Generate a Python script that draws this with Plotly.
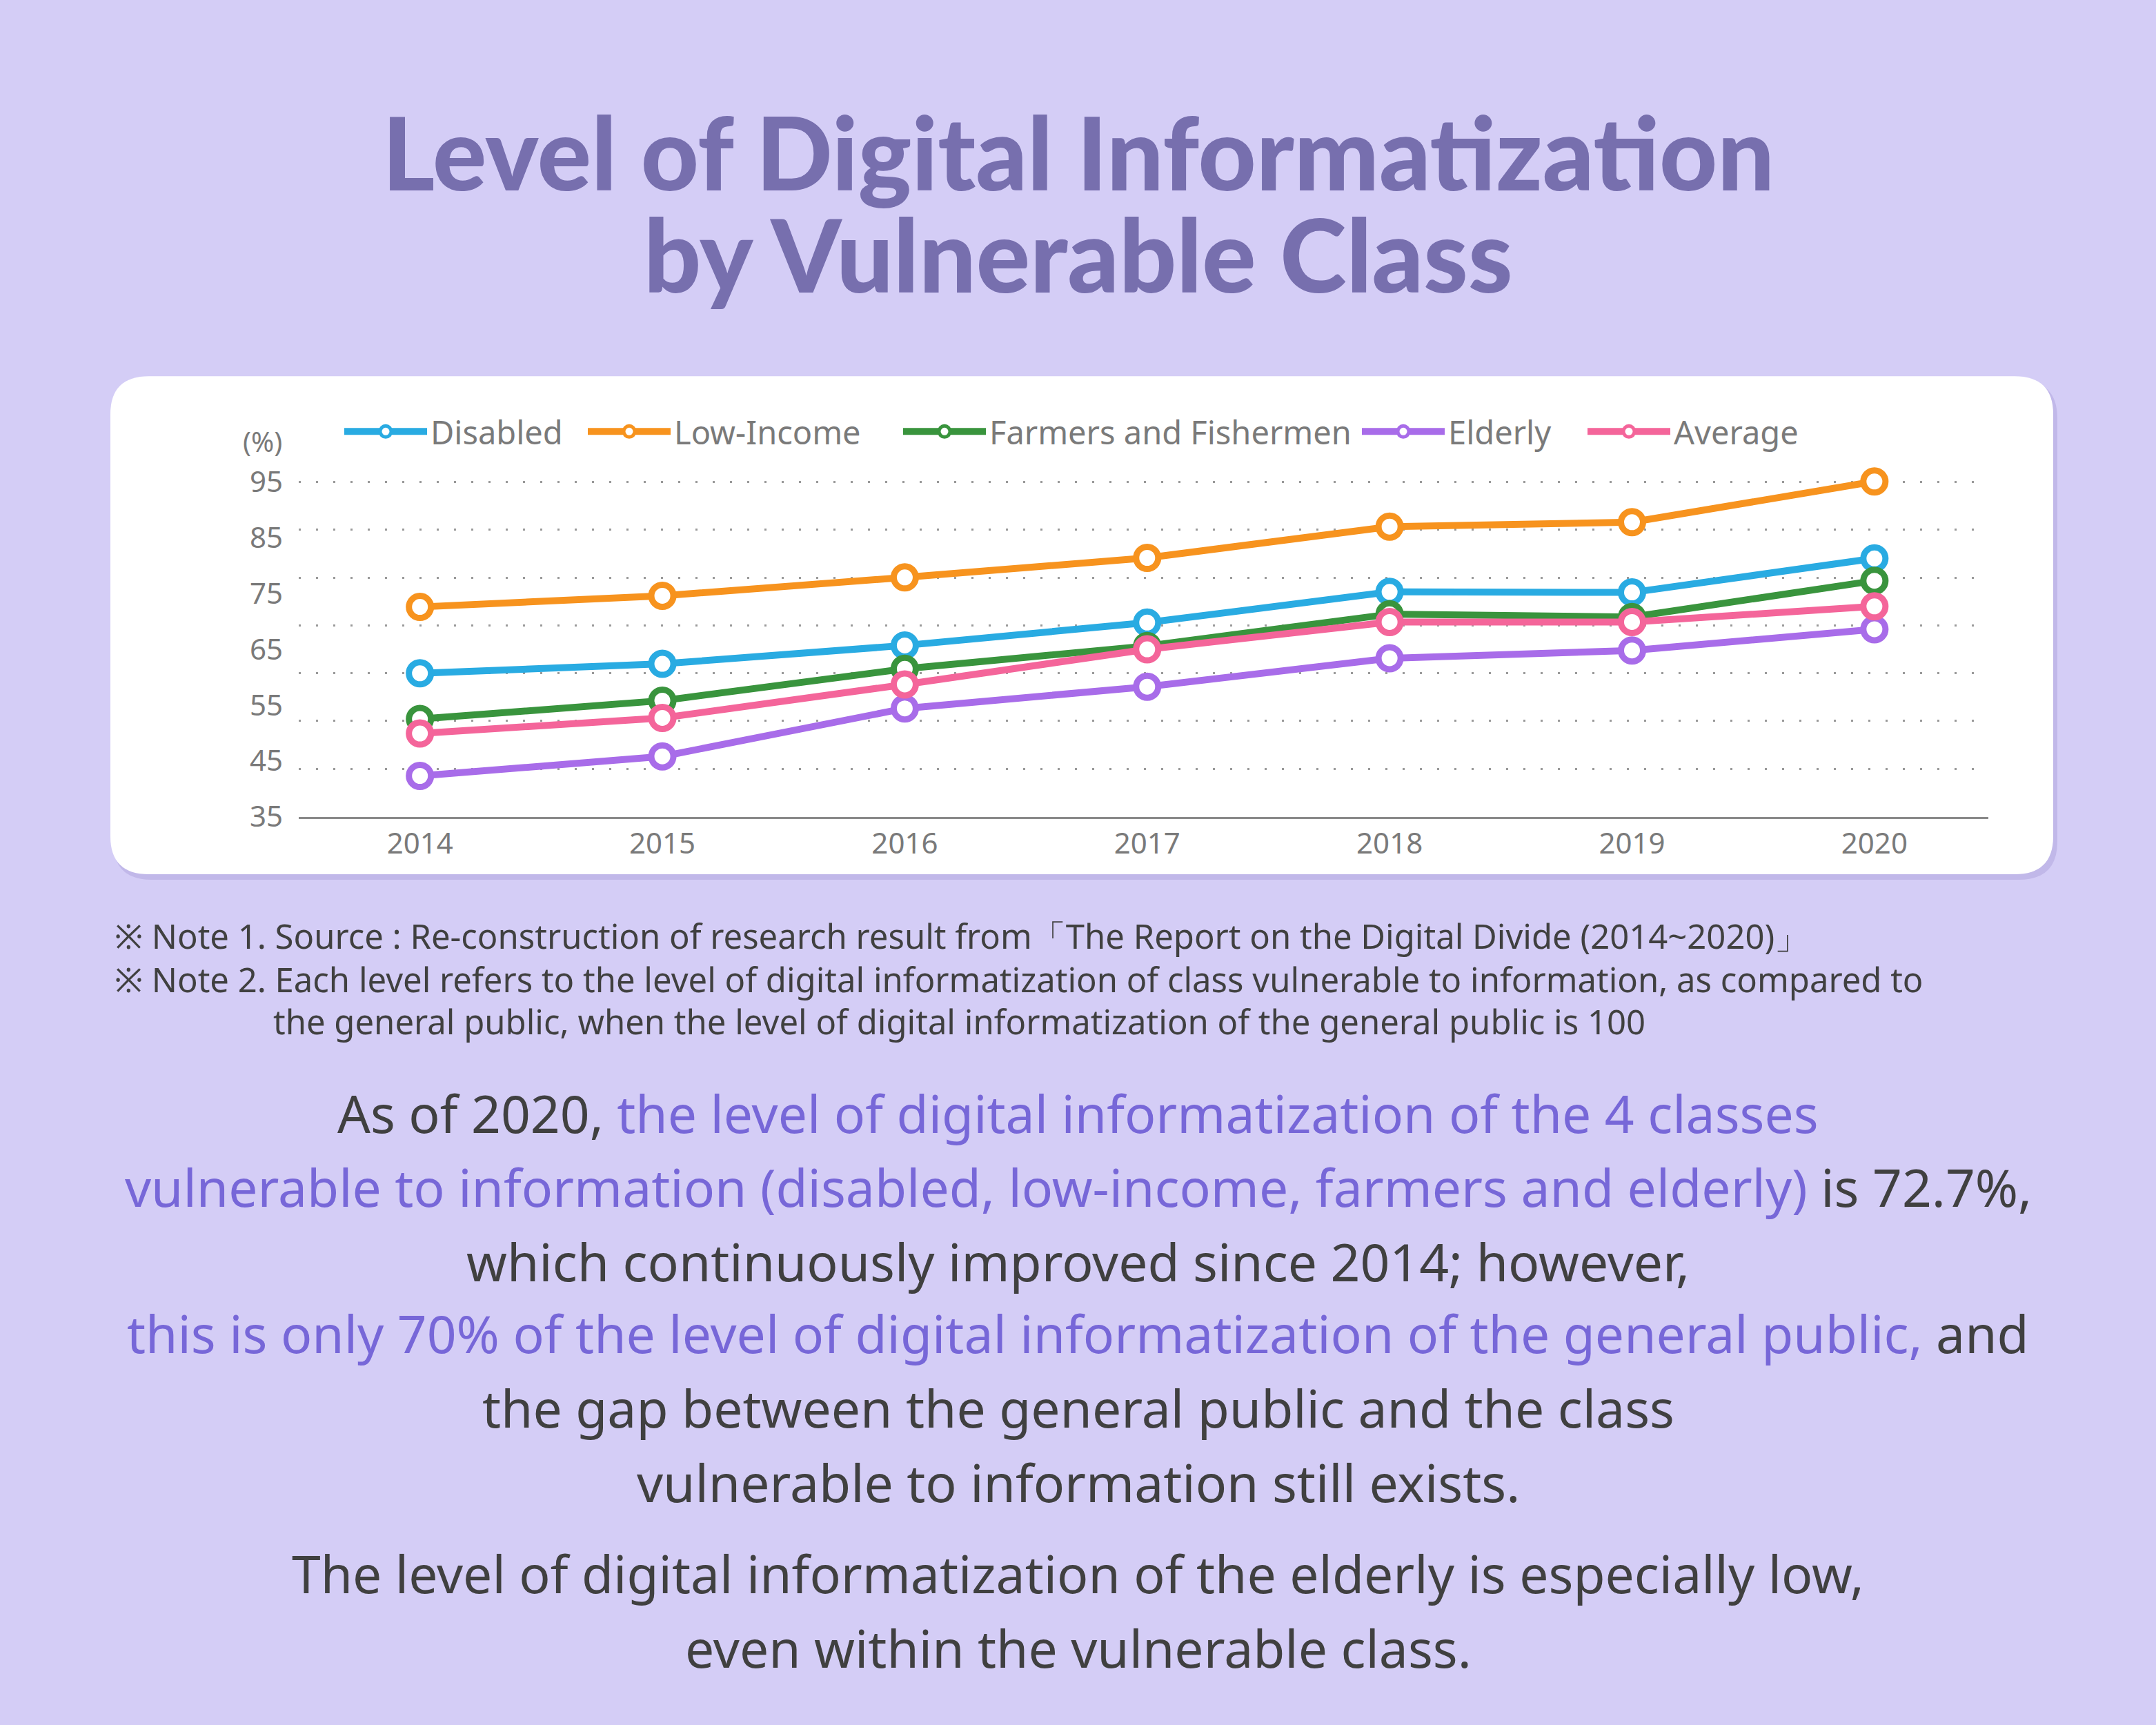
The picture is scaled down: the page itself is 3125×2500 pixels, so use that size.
import plotly.graph_objects as go

W, H = 3125, 2500

years = [2014, 2015, 2016, 2017, 2018, 2019, 2020]
disabled = [60.7, 62.4, 65.7, 69.8, 75.3, 75.2, 81.3]
low_income = [72.6, 74.6, 77.9, 81.4, 87.0, 87.8, 95.1]
farmers = [52.5, 55.8, 61.5, 65.6, 71.3, 70.8, 77.3]
elderly = [42.3, 45.8, 54.4, 58.3, 63.4, 64.8, 68.6]
average = [49.9, 52.7, 58.7, 65.0, 69.9, 69.9, 72.7]

series_names = ["Disabled", "Low-Income", "Farmers and Fishermen", "Elderly", "Average"]
series_values = [disabled, low_income, farmers, elderly, average]
series_colors = ["#29abe2", "#f7931e", "#39943d", "#a86ce9", "#f4659a"]
y_ticks = [35, 45, 55, 65, 75, 85, 95]

# legend entry widths (px), so the items sit where the reference puts them
legend_widths = [218, 322, 530, 192, 300]

BG = "#d4cdf6"
DARK = "#404040"
HILITE = "#7767d8"
GREY = "#7a7a7a"

fig = go.Figure()

for name, vals, color, lw in zip(series_names, series_values, series_colors, legend_widths):
    fig.add_trace(
        go.Scatter(
            x=years,
            y=vals,
            name=name,
            mode="lines+markers",
            line=dict(color=color, width=10),
            marker=dict(size=32, color="white", line=dict(color=color, width=9)),
            cliponaxis=False,
            legendwidth=lw,
        )
    )

# invisible trace to carry the dotted grid axis
fig.add_trace(go.Scatter(x=[years[0]], y=[y_ticks[0]], yaxis="y2", mode="markers",
                         marker=dict(opacity=0), showlegend=False, hoverinfo="skip"))


def px(x):
    return x / W


def py(y):
    return 1 - y / H


# card and its soft shadow
def rounded(x0, y0, x1, y1, r):
    rx, ry = r / W, r / H
    a, b, c, d = px(x0), py(y1), px(x1), py(y0)
    return (f"M {a + rx},{b} L {c - rx},{b} Q {c},{b} {c},{b + ry} "
            f"L {c},{d - ry} Q {c},{d} {c - rx},{d} L {a + rx},{d} "
            f"Q {a},{d} {a},{d - ry} L {a},{b + ry} Q {a},{b} {a + rx},{b} Z")


shapes = [
    dict(type="path", xref="paper", yref="paper", layer="below",
         path=rounded(164, 546, 2982, 1282, 56), fillcolor="rgba(110,90,180,0.18)", line_width=0),
    dict(type="path", xref="paper", yref="paper", layer="below",
         path=rounded(160, 540, 2976, 1274, 56), fillcolor="white", line_width=0),
]

title_font = dict(size=146, color="#776fae", family="Lato", weight=900)
annotations = [
    dict(text="Level of Digital Informatization", x=0.5, y=py(209), font=title_font),
    dict(text="by Vulnerable Class", x=0.5, y=py(359), font=title_font),
    dict(text="(%)", x=px(380), y=py(636), font=dict(size=40, color=GREY)),
]

note_lines = [
    ("※ Note 1. Source : Re-construction of research result from「The Report on the Digital Divide (2014~2020)」", 164, 1364),
    ("※ Note 2. Each level refers to the level of digital informatization of class vulnerable to information, as compared to", 164, 1428),
    ("the general public, when the level of digital informatization of the general public is 100", 394, 1490),
]
for text, x, y in note_lines:
    annotations.append(dict(text=text, x=px(x), y=py(y), xanchor="left", font=dict(size=49, color=DARK)))


def hl(s):
    return f"<span style='color:{HILITE}'>{s}</span>"


body_lines = [
    ("As of 2020, " + hl("the level of digital informatization of the 4 classes"), 1626),
    (hl("vulnerable to information (disabled, low-income, farmers and elderly)") + " is 72.7%,", 1734),
    ("which continuously improved since 2014; however,", 1844),
    (hl("this is only 70% of the level of digital informatization of the general public,") + " and", 1950),
    ("the gap between the general public and the class", 2060),
    ("vulnerable to information still exists.", 2170),
    ("The level of digital informatization of the elderly is especially low,", 2304),
    ("even within the vulnerable class.", 2414),
]
for text, y in body_lines:
    annotations.append(dict(text=text, x=0.5, y=py(y), font=dict(size=75, color=DARK)))

for a in annotations:
    a.update(xref="paper", yref="paper", showarrow=False, yanchor="middle")
    a.setdefault("xanchor", "center")

y_range = [35, 97]
fig.update_layout(
    width=W,
    height=H,
    margin=dict(l=0, r=0, t=0, b=0),
    paper_bgcolor=BG,
    plot_bgcolor="rgba(0,0,0,0)",
    font=dict(family="Noto Sans", color=GREY),
    shapes=shapes,
    annotations=annotations,
    showlegend=True,
    legend=dict(
        orientation="h",
        x=px(494), y=py(622), xanchor="left", yanchor="middle",
        font=dict(size=47, color=GREY),
        bgcolor="rgba(0,0,0,0)",
        itemwidth=120,
    ),
    xaxis=dict(
        domain=[px(433), px(2882)],
        range=[2013.5, 2020.47],
        tickvals=years,
        showgrid=False,
        zeroline=False,
        showline=True,
        linecolor="#8a8a8a",
        linewidth=3,
        ticks="",
        tickfont=dict(size=42, color=GREY),
    ),
    yaxis=dict(
        domain=[py(1189), py(1189) + (1189 - 696) / H * (y_range[1] - y_range[0]) / 60],
        range=y_range,
        tickvals=y_ticks,
        showgrid=False,
        zeroline=False,
        ticks="",
        ticklabelstandoff=22,
        tickfont=dict(size=42, color=GREY),
    ),
    yaxis2=dict(
        overlaying="y",
        range=y_range,
        tick0=35,
        dtick=60 / 7,
        showgrid=True,
        gridcolor="#9a9a9a",
        gridwidth=3,
        griddash="3px,22px",
        showticklabels=False,
        zeroline=False,
        ticks="",
    ),
)

fig.write_html("out.html", config={"displayModeBar": False},
               post_script="document.body.style.margin='0';")
